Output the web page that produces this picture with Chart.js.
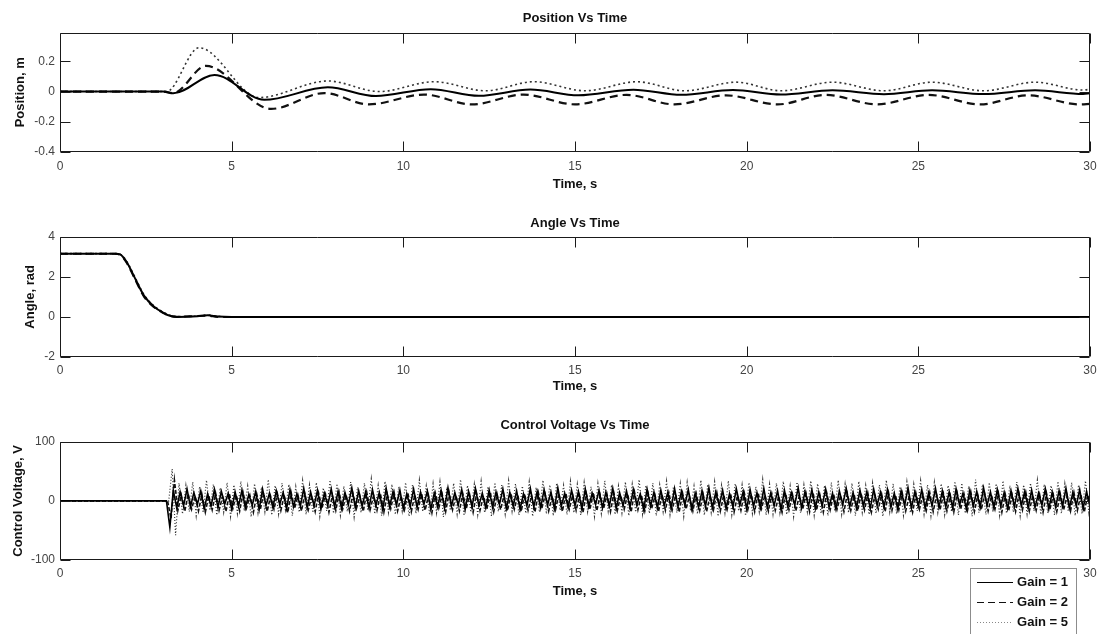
<!DOCTYPE html>
<html>
<head>
<meta charset="utf-8">
<script src="https://cdn.jsdelivr.net/npm/chart.js@4/dist/chart.umd.min.js"></script>
<style>
  html, body { margin: 0; padding: 0; background: #fff; width: 1099px; height: 634px; overflow: hidden; }
  .panel { position: absolute; left: 0; width: 1099px; }
</style>
</head>
<body>
<div class="panel" style="top:0;height:192px"><canvas id="posChart"></canvas></div>
<div class="panel" style="top:200px;height:194px"><canvas id="angChart"></canvas></div>
<div class="panel" style="top:400px;height:234px"><canvas id="voltChart"></canvas></div>
<script>
// ---- series labels ----
const gainLabels = ['Gain = 1', 'Gain = 2', 'Gain = 5'];

// ---- cart position (m): turning points of each response ----
const posTimeG1 = [0, 3.0, 3.3, 4.5, 5.95, 7.8, 9.2, 10.8, 12.2, 13.7, 15.1, 16.7, 18.1, 19.6, 21.0, 22.5, 24.0, 25.4, 26.9, 28.4, 29.8, 30];
const posG1     = [0, 0, -0.012, 0.11, -0.055, 0.028, -0.03, 0.016, -0.028, 0.013, -0.025, 0.012, -0.022, 0.01, -0.02, 0.008, -0.018, 0.008, -0.017, 0.008, -0.016, -0.012];
const posTimeG2 = [0, 3.0, 3.3, 4.25, 6.15, 7.7, 9.0, 10.6, 12.0, 13.5, 15.0, 16.5, 17.9, 19.4, 20.9, 22.3, 23.8, 25.3, 26.8, 28.2, 29.7, 30];
const posG2     = [0, 0, -0.01, 0.17, -0.115, -0.01, -0.085, -0.02, -0.085, -0.02, -0.085, -0.022, -0.085, -0.025, -0.085, -0.022, -0.085, -0.022, -0.085, -0.025, -0.085, -0.082];
const posTimeG5 = [0, 3.1, 4.05, 5.8, 7.8, 9.3, 10.9, 12.4, 13.8, 15.3, 16.8, 18.2, 19.7, 21.0, 22.5, 24.0, 25.4, 26.9, 28.4, 29.8, 30];
const posG5     = [0, 0, 0.29, -0.04, 0.07, 0.0, 0.065, 0.005, 0.065, 0.005, 0.065, 0.005, 0.062, 0.005, 0.062, 0.005, 0.062, 0.005, 0.062, 0.01, 0.015];

// ---- pendulum angle (rad) ----
const angTime = [0, 1.6, 1.75, 1.95, 2.15, 2.45, 2.75, 3.0, 3.2, 3.4, 4.0, 4.3, 4.6, 5.0, 30];
const angG1   = [3.16, 3.16, 3.12, 2.72, 2.05, 1.05, 0.5, 0.22, 0.06, 0.0, 0.03, 0.08, 0.02, 0.0, 0.0];
const angG2   = [3.16, 3.16, 3.1, 2.68, 2.0, 1.0, 0.47, 0.2, 0.05, 0.01, 0.05, 0.06, 0.0, 0.0, 0.0];
const angG5   = [3.16, 3.16, 3.13, 2.76, 2.1, 1.1, 0.53, 0.25, 0.08, 0.02, 0.04, 0.1, 0.03, 0.0, 0.0];

// ---- control voltage (V), sampled every 0.1 s; each gain's samples start a third of a step later ----
const voltStep = 0.1;
const voltStartG1 = 3.1;
const voltStartG2 = 3.133;
const voltStartG5 = 3.167;
const voltG1 = [
  0,-45,18,-12,15,-8,20,-10,14,-6,17,-13,12,-9,19,-11,16,-5,13,-14,
  15,-9,18,-12,11,-7,16,-15,20,-8,13,-11,17,-6,14,-13,19,-10,12,-9,
  21,-12,15,-8,18,-14,13,-7,20,-10,16,-13,14,-6,22,-11,17,-9,15,-12,
  19,-8,14,-15,21,-10,16,-7,18,-13,12,-9,20,-11,15,-6,17,-14,13,-10,
  18,-12,22,-9,14,-7,19,-15,16,-10,21,-8,13,-12,18,-11,15,-6,20,-13,
  14,-9,17,-14,12,-8,21,-10,16,-12,19,-7,15,-13,22,-9,13,-11,18,-8,
  16,-14,20,-10,13,-6,18,-12,15,-9,21,-13,14,-8,17,-11,19,-7,12,-15,
  20,-9,15,-12,18,-8,14,-13,21,-10,16,-7,19,-14,13,-11,17,-9,22,-12,
  15,-8,18,-13,12,-10,20,-7,16,-14,19,-9,14,-12,21,-11,13,-8,17,-15,
  18,-10,14,-7,22,-12,16,-9,19,-13,15,-8,20,-11,13,-14,17,-6,21,-10,
  14,-12,18,-9,16,-13,20,-7,15,-11,19,-10,13,-14,17,-8,22,-12,16,-9,
  19,-13,14,-8,21,-11,17,-10,15,-12,20,-7,13,-14,18,-9,16,-11,22,-8,
  15,-12,19,-9,14,-13,17,-10,21,-8,16,-12,18,-11,13,-7,20,-14,15,-10,
  17,-9,21,-12,14,-8,19,-13,16,-10
];
const voltG2 = [
  0,-30,35,-16,10,-18,12,-14,8,-17,11,-19,9,-15,13,-16,7,-18,12,-13,
  10,-17,14,-12,9,-19,11,-15,13,-18,8,-14,12,-16,10,-20,14,-13,9,-17,
  12,-15,8,-18,13,-12,11,-19,9,-16,14,-14,10,-17,12,-13,8,-18,15,-15,
  9,-16,12,-19,11,-13,14,-17,8,-15,13,-18,10,-14,12,-16,9,-20,13,-12,
  11,-18,14,-15,9,-17,12,-13,10,-19,13,-16,8,-14,15,-18,11,-15,9,-17,
  13,-14,10,-18,12,-16,9,-19,14,-13,11,-17,8,-15,12,-18,13,-14,10,-16,
  9,-19,12,-15,14,-17,10,-13,11,-18,13,-16,9,-14,12,-19,15,-15,10,-17,
  12,-13,9,-18,11,-16,14,-15,10,-19,13,-14,8,-17,12,-16,11,-18,9,-15,
  14,-17,10,-14,12,-19,9,-16,13,-15,11,-18,14,-13,10,-17,12,-16,8,-19,
  13,-15,11,-17,9,-14,12,-18,14,-16,10,-19,13,-15,11,-14,9,-18,12,-16,
  10,-17,13,-15,12,-19,9,-14,11,-18,14,-16,10,-15,13,-17,8,-19,12,-14,
  11,-16,14,-18,10,-15,12,-17,9,-19,13,-14,11,-16,14,-18,10,-15,12,-17,
  9,-14,13,-19,11,-16,10,-18,12,-15,14,-17,9,-16,11,-19,13,-14,10,-18,
  12,-15,9,-17,14,-16,11,-19,10,-14
];
const voltG5 = [
  0,54,-58,30,-22,26,-18,32,-25,24,-20,35,-16,28,-24,22,-19,31,-26,27,
  -21,33,-17,25,-27,29,-20,23,-18,36,-24,26,-22,30,-15,28,-25,24,-19,34,
  -23,27,-20,31,-26,22,-17,35,-21,29,-24,25,-18,32,-27,23,-20,30,-16,37,
  -22,26,-25,33,-19,28,-23,24,-17,31,-26,27,-21,35,-18,25,-24,29,-20,32,
  -27,23,-16,30,-22,36,-25,26,-19,28,-23,33,-20,24,-26,31,-18,27,-22,34,
  -17,29,-24,25,-21,32,-26,23,-19,35,-22,27,-25,30,-16,26,-23,33,-20,28,
  -24,31,-18,24,-26,29,-21,34,-17,27,-23,25,-20,32,-25,28,-19,36,-22,26,
  -21,30,-25,27,-18,33,-23,24,-20,29,-26,31,-17,25,-22,35,-24,28,-19,32,
  -26,26,-20,34,-23,29,-17,27,-25,31,-21,24,-18,36,-24,28,-22,30,-19,33,
  -23,25,-26,32,-20,27,-18,34,-24,29,-21,26,-25,31,-17,35,-22,28,-20,30,
  -25,33,-19,26,-23,30,-21,27,-26,35,-18,29,-22,24,-24,32,-20,28,-17,34,
  -22,27,-25,31,-19,29,-23,26,-18,33,-24,30,-21,25,-26,36,-20,28,-23,31,
  -18,29,-24,34,-21,26,-19,32,-25,27,-22,30,-17,35,-23,28,-20,26,-24,33,
  -21,29,-18,31,-25,27,-22,34,-19,28
];

// ---- shared styling ----
const FAMILY = "'Liberation Sans', Arial, 'DejaVu Sans', sans-serif";
const titleFont = { family: FAMILY, size: 13, weight: 'bold' };
const tickFont = { family: FAMILY, size: 12 };
const INK = '#111';

function pairs(ts, vs) { return ts.map((t, i) => ({ x: t, y: vs[i] })); }
function sampled(start, vs) {
  return [{ x: 0, y: 0 }].concat(vs.map((v, i) => ({ x: +(start + i * voltStep).toFixed(3), y: v })));
}

// Box around the plot area plus inward tick marks on all four sides
const framePlugin = {
  id: 'frame',
  afterDatasetsDraw(chart) {
    const { ctx, chartArea: { left, right, top, bottom }, scales: { x, y } } = chart;
    const len = 10;
    ctx.save();
    ctx.strokeStyle = '#1a1a1a';
    ctx.lineWidth = 1;
    ctx.setLineDash([]);
    ctx.beginPath();
    const L = Math.round(left) + 0.5, R = Math.round(right) - 0.5;
    const T = Math.round(top) + 0.5, B = Math.round(bottom) - 0.5;
    ctx.rect(L, T, R - L, B - T);
    x.ticks.forEach(t => {
      const px = Math.round(x.getPixelForValue(t.value)) + 0.5;
      ctx.moveTo(px, B); ctx.lineTo(px, B - len);
      ctx.moveTo(px, T); ctx.lineTo(px, T + len);
    });
    y.ticks.forEach(t => {
      const py = Math.round(y.getPixelForValue(t.value)) + 0.5;
      ctx.moveTo(L, py); ctx.lineTo(L + len, py);
      ctx.moveTo(R, py); ctx.lineTo(R - len, py);
    });
    ctx.stroke();
    ctx.restore();
  }
};

// Boxed key listing each dataset's line style
const keyPlugin = {
  id: 'gainKey',
  afterDraw(chart, args, o) {
    if (!o || !o.show) return;
    const ctx = chart.ctx;
    ctx.save();
    ctx.fillStyle = '#fff';
    ctx.fillRect(o.x, o.y, o.w, o.h);
    ctx.strokeStyle = '#8c8c8c';
    ctx.lineWidth = 1;
    ctx.strokeRect(o.x + 0.5, o.y + 0.5, o.w, o.h);
    chart.data.datasets.forEach((ds, i) => {
      const cy = Math.round(o.y + o.first + i * o.row) + 0.5;
      ctx.beginPath();
      ctx.setLineDash(ds.keyDash || []);
      ctx.strokeStyle = ds.keyColor || ds.borderColor;
      ctx.lineWidth = 1;
      ctx.moveTo(o.x + 7, cy); ctx.lineTo(o.x + 43, cy);
      ctx.stroke();
      ctx.setLineDash([]);
      ctx.fillStyle = INK;
      ctx.font = 'bold 13px ' + FAMILY;
      ctx.textAlign = 'right';
      ctx.textBaseline = 'middle';
      ctx.fillText(ds.label, o.x + o.w - 8, cy);
    });
    ctx.restore();
  }
};

function panelOptions(p) {
  return {
    responsive: true,
    maintainAspectRatio: false,
    animation: false,
    events: [],
    layout: { padding: { left: 0, right: 9, top: 0, bottom: p.bottomPad || 0 } },
    elements: { point: { radius: 0 } },
    plugins: {
      legend: { display: false },
      tooltip: { enabled: false },
      title: {
        display: true, fullSize: false, text: p.title, font: titleFont, color: INK,
        padding: { top: p.titleTop, bottom: p.titleBottom }
      },
      gainKey: p.key || { show: false }
    },
    scales: {
      x: {
        type: 'linear', min: 0, max: 30,
        grid: { display: false, drawTicks: false },
        border: { display: false },
        ticks: { stepSize: 5, padding: p.tickPad, font: tickFont, color: '#444', maxRotation: 0 },
        title: { display: true, text: 'Time, s', font: titleFont, color: INK, padding: { top: 0, bottom: 0 } },
        afterFit(s) { s.height = p.xHeight; s.paddingLeft = 0; s.paddingRight = 0; }
      },
      y: {
        type: 'linear', min: p.yMin, max: p.yMax,
        grid: { display: false, drawTicks: false },
        border: { display: false },
        ticks: { stepSize: p.yStep, padding: 5, font: tickFont, color: '#444' },
        title: { display: true, text: p.yTitle, font: titleFont, color: INK, padding: { top: p.yTitlePad, bottom: 0 } },
        afterBuildTicks(s) { s.ticks = s.ticks.filter(t => p.yTicks.some(v => Math.abs(v - t.value) < 1e-9)); },
        afterFit(s) { s.width = 60; s.paddingTop = 0; s.paddingBottom = 0; }
      }
    }
  };
}

Chart.register(framePlugin, keyPlugin);

// Position Vs Time
new Chart(document.getElementById('posChart'), {
  type: 'line',
  data: {
    datasets: [
      { label: gainLabels[0], data: pairs(posTimeG1, posG1), borderColor: '#000', borderWidth: 2, cubicInterpolationMode: 'monotone' },
      { label: gainLabels[1], data: pairs(posTimeG2, posG2), borderColor: '#111', borderWidth: 2.2, borderDash: [8, 5], cubicInterpolationMode: 'monotone' },
      { label: gainLabels[2], data: pairs(posTimeG5, posG5), borderColor: '#333', borderWidth: 1.6, borderDash: [2, 3], cubicInterpolationMode: 'monotone' }
    ]
  },
  options: panelOptions({
    title: 'Position Vs Time', titleTop: 10.5, titleBottom: 6.5,
    yTitle: 'Position, m', yTitlePad: 13,
    yMin: -0.4, yMax: 0.39, yStep: 0.2, yTicks: [-0.4, -0.2, 0, 0.2],
    tickPad: 7, xHeight: 40
  })
});

// Angle Vs Time
new Chart(document.getElementById('angChart'), {
  type: 'line',
  data: {
    datasets: [
      { label: gainLabels[0], data: pairs(angTime, angG1), borderColor: '#000', borderWidth: 2, cubicInterpolationMode: 'monotone' },
      { label: gainLabels[1], data: pairs(angTime, angG2), borderColor: '#111', borderWidth: 2, borderDash: [8, 5], cubicInterpolationMode: 'monotone' },
      { label: gainLabels[2], data: pairs(angTime, angG5), borderColor: '#333', borderWidth: 1.6, borderDash: [2, 3], cubicInterpolationMode: 'monotone' }
    ]
  },
  options: panelOptions({
    title: 'Angle Vs Time', titleTop: 15.5, titleBottom: 5.7,
    yTitle: 'Angle, rad', yTitlePad: 23,
    yMin: -2, yMax: 4, yStep: 2, yTicks: [-2, 0, 2, 4],
    tickPad: 6, xHeight: 37
  })
});

// Control Voltage Vs Time, with the gain key below the axes
new Chart(document.getElementById('voltChart'), {
  type: 'line',
  data: {
    datasets: [
      { label: gainLabels[0], data: sampled(voltStartG1, voltG1), borderColor: '#000', borderWidth: 1.6, tension: 0 },
      { label: gainLabels[1], data: sampled(voltStartG2, voltG2), borderColor: '#111', borderWidth: 1.6, borderDash: [4, 2], keyDash: [7, 4], tension: 0 },
      { label: gainLabels[2], data: sampled(voltStartG5, voltG5), borderColor: '#333', borderWidth: 1.2, borderDash: [1, 2], keyDash: [1, 2], keyColor: '#888', tension: 0 }
    ]
  },
  options: panelOptions({
    title: 'Control Voltage Vs Time', titleTop: 18, titleBottom: 8.2,
    yTitle: 'Control Voltage, V', yTitlePad: 10.5,
    yMin: -100, yMax: 100, yStep: 100, yTicks: [-100, 0, 100],
    tickPad: 6, xHeight: 39, bottomPad: 35,
    key: { show: true, x: 970, y: 168, w: 106, h: 70, first: 14, row: 20 }
  })
});
</script>
</body>
</html>
